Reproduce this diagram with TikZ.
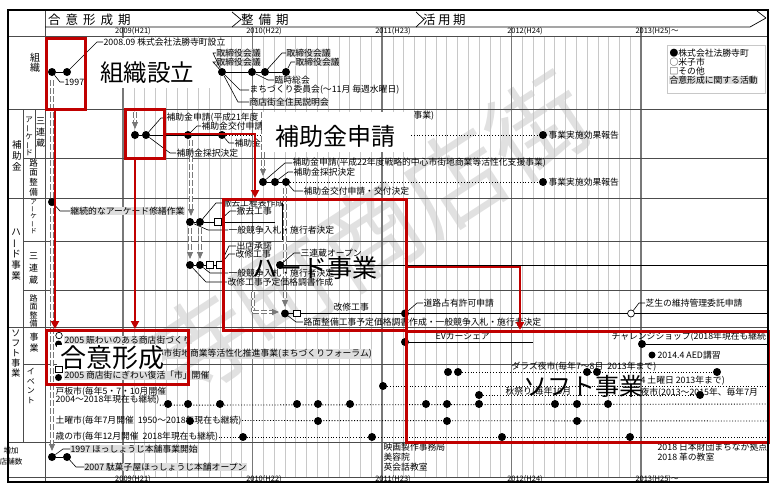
\documentclass[tikz,border=0pt]{standalone}
\usepackage{fontspec}
\setmainfont{Noto Sans CJK JP}
\usetikzlibrary{arrows.meta}
\definecolor{rboxc}{RGB}{192,0,0}
\definecolor{hlc}{RGB}{222,222,222}
\definecolor{gridc}{RGB}{200,200,200}
\definecolor{yearc}{RGB}{120,120,120}
\definecolor{wmc}{RGB}{225,225,225}
\definecolor{flowc}{RGB}{120,120,120}
\newcommand{\vbar}{\rotatebox[origin=c]{90}{ー}}
\tikzset{
  lbl/.style={font=\fontsize{8.8}{9}\selectfont, inner sep=0.4pt, anchor=west},
  hlbl/.style={lbl, fill=hlc},
  big/.style={font=\fontsize{24}{26}\selectfont, inner sep=0pt},
  yr/.style={font=\fontsize{7.5}{8}\selectfont, inner sep=0pt},
  phase/.style={font=\fontsize{12.5}{13}\selectfont, inner sep=0pt, anchor=west},
  vlab/.style={align=center, inner sep=0pt},
  bdot/.style={circle, fill=black, inner sep=0pt, minimum size=8pt},
  wdot/.style={circle, draw=black, line width=0.7pt, fill=white, inner sep=0pt, minimum size=7pt},
  sqn/.style={rectangle, draw=black, line width=0.7pt, fill=white, inner sep=0pt, minimum size=6.5pt},
  lead/.style={draw=black, line width=0.6pt},
  tline/.style={draw=black, line width=0.8pt},
  dline/.style={draw=black, line width=0.9pt, dash pattern=on 1pt off 1.8pt},
  flow/.style={draw=flowc, line width=0.8pt, double=white, double distance=1.6pt, dash pattern=on 6pt off 2pt},
  flowarr/.style={flow, -{Triangle[length=7pt,width=6pt,fill=flowc]}},
  redbox/.style={draw=rboxc, line width=3.2pt, rectangle, inner sep=0pt, anchor=north west},
  redarr/.style={draw=rboxc, line width=2.6pt, -{Triangle[length=8pt,width=8pt]}},
  rowl/.style={draw=black!70, line width=0.7pt},
}
\begin{document}
\begin{tikzpicture}[x=1pt,y=-1pt]
\useasboundingbox (0,0) rectangle (773,487);
% watermark
\node[text=wmc, font=\fontsize{100}{100}\selectfont, rotate=33, inner sep=0pt] (wm) at (370,235) {寺町商店街};
% grid
\foreach \k in {1,...,47}{\draw[gridc, line width=0.5pt] ({123+\k*10.79},36) -- ({123+\k*10.79},477);}
\foreach \xx in {123,252.5,382,511.5,641}{\draw[yearc, line width=1.2pt] (\xx,27) -- (\xx,482);}
\foreach \yy in {36,109,198,327,442,477}{\draw[rowl] (8,\yy) -- (768,\yy);}
\foreach \yy in {158,241,290,364}{\draw[rowl] (23,\yy) -- (768,\yy);}
\draw[rowl] (23,109) -- (23,442);
\draw[rowl] (45,10) -- (45,482);
\draw[rowl] (35,109) -- (35,158);
% header
\draw[line width=0.7pt] (45,27) -- (750,27) -- (766,18);
\draw[line width=0.7pt] (757,11) -- (766,18);
\draw[line width=0.7pt] (232,12) -- (241,19.5) -- (232,27);
\draw[line width=0.7pt] (416,12) -- (424,19.5) -- (416,27);
\node[phase] (ph1) at (48,19.5) {合\hspace{5pt}意\hspace{5pt}形\hspace{5pt}成\hspace{5pt}期};
\node[phase] (ph2) at (241,19.5) {整\hspace{5pt}備\hspace{5pt}期};
\node[phase] (ph3) at (423,19.5) {活\hspace{2.5pt}用\hspace{2.5pt}期};
\foreach \xx/\t [count=\i] in {133/2009(H21),264/2010(H22),393/2011(H23),525/2012(H24),657/2013(H25)～}{
  \node[yr] (yt\i) at (\xx,31.5) {\t};
  \node[yr] (yb\i) at (\xx,479.5) {\t};}
% side labels
\node[vlab, font=\fontsize{10}{10.5}\selectfont] (sl1) at (35,62.5) {組\\織};
\node[vlab, font=\fontsize{9.5}{11}\selectfont] (sl2) at (17,156) {補\\助\\金};
\node[vlab, font=\fontsize{9.5}{11.2}\selectfont] (sl3) at (16,254.5) {ハ\\\vbar\\ド\\事\\業};
\node[vlab, font=\fontsize{9}{10}\selectfont] (sl4) at (16,354) {ソ\\フ\\ト\\事\\業};
\node[vlab, font=\fontsize{7.5}{8.3}\selectfont] (sl5) at (29,136.5) {ア\\\vbar\\ケ\\\vbar\\ド};
\node[vlab, font=\fontsize{9}{11}\selectfont] (sl6) at (40.5,133) {三\\連\\蔵};
\node[vlab, font=\fontsize{8.5}{9.7}\selectfont] (sl7) at (33.5,177.5) {路\\面\\整\\備};
\node[vlab, font=\fontsize{6.5}{6.7}\selectfont] (sl8) at (33.5,216.5) {ア\\\vbar\\ケ\\\vbar\\ド};
\node[vlab, font=\fontsize{9}{12}\selectfont] (sl9) at (33.5,269) {三\\連\\蔵};
\node[vlab, font=\fontsize{8}{8.4}\selectfont] (sl10) at (33.5,311) {路\\面\\整\\備};
\node[vlab, font=\fontsize{9}{11}\selectfont] (sl11) at (34,342.5) {事\\業};
\node[vlab, font=\fontsize{8}{9.5}\selectfont] (sl12) at (31,386) {イ\\ベ\\ン\\ト};
\node[vlab, font=\fontsize{7.5}{11}\selectfont] (sl13) at (11,456) {増加\\店舗数};
% legend
\node[draw=gridc, line width=0.8pt, minimum width=98pt, minimum height=48pt, anchor=north west, inner sep=0pt] (lg) at (667,45) {};
\node[lbl] (lg1) at (669,53) {●株式会社法勝寺町};
\node[lbl] (lg2) at (669,62) {○米子市};
\node[lbl] (lg3) at (669,71) {□その他};
\node[hlbl] (lg4) at (669,80) {合意形成に関する活動};
% flows
\node[bdot] (z1) at (52,457) {};
\node[bdot] (o1) at (52,72) {};
\draw[flowarr] (52,80) -- (52,451);
\draw[flowarr] (135,112) -- (135,129);
\draw[flowarr] (191,140) -- (191,216);
\draw[flowarr] (190,228) -- (190,259);
\draw[flowarr] (200,228) -- (200,259);
\draw[flowarr] (263,112) -- (263,176);
\draw[flowarr] (285,188) -- (285,307);
\draw[flow] (253,292) -- (253,312);
\draw[flowarr] (253,312) -- (279,312);
% --- 組織 row
\node[bdot] (o2) at (67,72) {};
\draw[tline] (o1) -- (o2);
\node[lbl] (t1997) at (64,82) {1997};
\draw[lead] (o1) -- (60,82) -- (t1997.west);
\fill[white] (88,46) rectangle (213,88);
\node[big, font=\fontsize{23.5}{25}\selectfont] (bg1) at (147,73) {組織設立};
\node[lbl, fill=white] (t2008) at (103,42) {2008.09 株式会社法勝寺町設立};
\draw[lead] (o2) -- (97,42) -- (t2008.west);
\node[bdot] (o3) at (222,72) {};
\node[bdot] (o4) at (252,72) {};
\node[bdot] (o5) at (265,72) {};
\node[bdot] (o6) at (286,72) {};
\draw[tline] (o3) -- (o4) -- (o5) -- (o6);
\node[hlbl] (tk1) at (216,53) {取締役会議};
\node[hlbl] (tk2) at (216,62) {取締役会議};
\node[hlbl] (tk3) at (286,53) {取締役会議};
\node[hlbl] (tk4) at (295,62) {取締役会議};
\node[lbl] (tk5) at (274,80) {臨時総会};
\node[lbl] (tk6) at (249,90) {まちづくり委員会(～11月\ 毎週水曜日)};
\node[hlbl] (tk7) at (249,102) {商店街全住民説明会};
\draw[lead] (o3) -- (213,53) -- (tk1.west);
\draw[lead] (o3) -- (213,62) -- (tk2.west);
\draw[lead] (o5) -- (282,53) -- (tk3.west);
\draw[lead] (o6) -- (291,62) -- (tk4.west);
\draw[lead] (o4) -- (268,80) -- (tk5.west);
\draw[lead] (o3) -- (240,90) -- (tk6.west);
\draw[lead] (o3) -- (238,102) -- (tk7.west);
% --- 補助金 row 1
\node[bdot] (h1) at (135,135) {};
\node[bdot] (h2) at (146,135) {};
\node[bdot] (h3) at (188,135) {};
\node[bdot] (h4) at (222,135) {};
\draw[tline] (h1) -- (h2) -- (h3) -- (h4);
\node[bdot] (h5) at (543,135) {};
\draw[dline] (h4) -- (h5);
\node[lbl] (th5) at (548,135) {事業実施効果報告};
\node[lbl] (th1) at (166,118) {補助金申請(平成21年度};
\draw[lead] (h2) -- (161,118) -- (th1.west);
\node[lbl] (th2) at (176,153) {補助金採択決定};
\draw[lead] (h2) -- (170,153) -- (th2.west);
\node[lbl] (th3) at (201,126) {補助金交付申請};
\draw[lead] (h3) -- (197,126) -- (th3.west);
\node[lbl] (th4) at (234,143) {補助金};
\draw[lead] (h4) -- (229,143) -- (th4.west);
\fill[white] (262,112) rectangle (410,152);
\node[big] (bg2) at (335,136) {補助金申請};
\node[lbl] (th6) at (413,116) {事業)};
% --- 補助金 row 2
\node[bdot] (r1) at (263,182) {};
\node[bdot] (r2) at (275,182) {};
\node[bdot] (r3) at (286,182) {};
\draw[tline] (r1) -- (r2) -- (r3);
\node[bdot] (r4) at (543,182) {};
\draw[dline] (r3) -- (r4);
\node[lbl] (tr4) at (548,182) {事業実施効果報告};
\node[lbl] (tr1) at (292,163) {補助金申請(平成22年度戦略的中心市街地商業等活性化支援事業)};
\draw[lead] (r1) -- (285,163) -- (tr1.west);
\node[lbl] (tr2) at (293,172) {補助金採択決定};
\draw[lead] (r2) -- (288,172) -- (tr2.west);
\node[lbl] (tr3) at (303,191) {補助金交付申請・交付決定};
\draw[lead] (r3) -- (294,191) -- (tr3.west);
% --- ハード アーケード
\node[bdot] (a0) at (52,202) {};
\node[hlbl] (ta0) at (70,211) {継続的なアーケード修繕作業};
\draw[lead] (a0) -- (60,211) -- (ta0.west);
\node[bdot] (a1) at (190,222) {};
\node[bdot] (a2) at (200,222) {};
\node[sqn] (a3) at (218,222) {};
\coordinate (a4) at (275,222);
\draw[tline] (a1) -- (a2) -- (a3) -- (a4);
\node[lbl] (ta1) at (222,203) {撤去工程表作成};
\node[lbl] (ta2) at (236,211) {撤去工事};
\node[lbl] (ta3) at (228,230) {一般競争入札・施行者決定};
\draw[lead] (a2) -- (216,203) -- (ta1.west);
\draw[lead] (a3) -- (230,211) -- (ta2.west);
\draw[lead] (a1) -- (208,230) -- (ta3.west);
\draw[line width=0.7pt] (282,203) -- (282,240);
% --- ハード 三連蔵
\node[bdot] (b1) at (190,265) {};
\node[bdot] (b2) at (200,265) {};
\node[sqn] (b3) at (210,265) {};
\node[sqn] (b4) at (220,265) {};
\draw[tline] (b1) -- (b2) -- (b3) -- (b4);
\node[lbl] (tb1) at (236,246) {出店承諾};
\node[lbl] (tb2) at (235,254) {改修工事};
\node[lbl] (tb3) at (228,273) {一般競争入札・施行者決定};
\node[lbl] (tb4) at (227,282) {改修工事予定価格調書作成};
\draw[lead] (b4) -- (229,246) -- (tb1.west);
\draw[lead] (b4) -- (229,254) -- (tb2.west);
\draw[lead] (b2) -- (210,273) -- (tb3.west);
\draw[lead] (b1) -- (206,282) -- (tb4.west);
\node[bdot] (b5) at (280,265) {};
\node[lbl] (tb5) at (300,253) {三連蔵オープン};
\draw[lead] (b5) -- (294,253) -- (tb5.west);
\coordinate (b6) at (768,265);
\draw[tline] (b5) -- (b6);
% --- ハード 路面整備
\node[bdot] (c1) at (285,313.5) {};
\node[sqn] (c2) at (297,313.5) {};
\node[bdot] (c3) at (405,313.5) {};
\node[wdot] (c4) at (631,313.5) {};
\coordinate (c5) at (768,313.5);
\draw[tline] (c1) -- (c2) -- (c3) -- (c4) -- (c5);
\node[lbl] (tc0) at (333,307.5) {改修工事};
\node[lbl] (tc3) at (423,303) {道路占有許可申請};
\draw[lead] (c3) -- (417,303) -- (tc3.west);
\node[lbl] (tc4) at (645,303) {芝生の維持管理委託申請};
\draw[lead] (c4) -- (639,303) -- (tc4.west);
\node[lbl] (tc1) at (303,322) {路面整備工事予定価格調書作成・一般競争入札・施行者決定};
\draw[lead] (c1) -- (296,322) -- (tc1.west);
% --- ソフト 事業
\node[wdot, minimum size=6.5pt] (s1) at (59,335.5) {};
\node[bdot, minimum size=7pt] (s2) at (58.5,344) {};
\node[hlbl] (ts1) at (64,340) {2005 賑わいのある商店街づくり};
\node[hlbl] (ts3) at (124,354) {2005 中心市街地商業等活性化推進事業(まちづくりフォーラム)};
\fill[white] (57,345) rectangle (162,371);
\node[big, font=\fontsize{26}{28}\selectfont] (bg3) at (112,358) {合意形成};
\node[bdot] (s4) at (405,342) {};
\coordinate (s5) at (533,342);
\draw[tline] (s4) -- (s5);
\node[lbl] (ts4) at (435,336.5) {EVカーシェア};
\node[bdot] (s6) at (642,344) {};
\coordinate (s7) at (767,344);
\draw[tline] (s6) -- (s7);
\node[lbl] (ts6) at (611,337) {チャレンジショップ(2018年現在も継続};
\node[bdot, minimum size=7pt] (s8) at (652,355) {};
\node[lbl] (ts8) at (657,355) {2014.4 AED講習};
% --- ソフト イベント
\node[sqn] (e1) at (59,369.5) {};
\node[bdot, minimum size=7pt] (e2) at (58.5,377.5) {};
\node[hlbl] (te1) at (64,375) {2005 商店街にぎわい復活「市」開催};
\node[lbl] (te2a) at (55,392) {戸板市(毎年5・7・10月開催};
\node[lbl] (te2b) at (55,400) {2004～2018年現在も継続)};
\coordinate (te2e) at (768,404);
\draw[dline] (te2b.south east) -- (te2e);
\foreach \xx [count=\i] in {168,188,220,297,318,350,426,447,479,555,577,608} \node[bdot] (tp\i) at (\xx,404) {};
\node[lbl] (te3) at (55,420.5) {土曜市(毎年7月開催\ \ 1950～2018年現在も継続)};
\coordinate (te3e) at (768,421);
\draw[dline] (te3.east) -- (te3e);
\foreach \xx [count=\i] in {190,318,447,577} \node[bdot] (ts\i) at (\xx,421) {};
\node[lbl] (te4) at (55,437) {歳の市(毎年12月開催\ \ 2018年現在も継続)};
\coordinate (te4e) at (768,437);
\draw[dline] (te4.east) -- (te4e);
\foreach \xx [count=\i] in {243,372,502,630} \node[bdot] (tt\i) at (\xx,437) {};
\node[bdot] (ev1) at (383,386) {};
\coordinate (ev1e) at (768,386);
\draw[dline] (ev1) -- (ev1e);
\node[lbl] (tev2) at (511,367) {ダラズ夜市(毎年7～8月\ \ 2013年まで)};
\node[bdot] (ev2) at (448,372) {};
\node[bdot] (ev3) at (458,372) {};
\node[bdot] (ev4) at (587,372) {};
\node[bdot] (ev5) at (597,372) {};
\node[bdot] (ev6) at (717,372) {};
\draw[dline] (ev3) -- (ev6);
\node[lbl] (tev3) at (640,381) {4 土曜日 2013年まで)};
\node[bdot] (ev7) at (479,395) {};
\node[bdot] (ev8) at (700,395) {};
\draw[dline] (ev7) -- (ev8);
\node[lbl] (tev4) at (505,392) {秋祭り(毎年10月};
\node[lbl] (tev5) at (640,393) {夜市(2013～2015年、毎年7月};
\node[big, font=\fontsize{24}{26}\selectfont] (bg5) at (583.5,386.5) {ソフト事業};
% --- 増加店舗数
\node[bdot] (z2) at (67,457) {};
\draw[tline] (z1) -- (z2);
\node[hlbl] (tz1) at (70,449) {1997 ほっしょうじ本舗事業開始};
\draw[lead] (z1) -- (63,449) -- (tz1.west);
\node[hlbl] (tz2) at (84,467) {2007 駄菓子屋ほっしょうじ本舗オープン};
\draw[lead] (z2) -- (76,467) -- (tz2.west);
\node[lbl] (tz3) at (383,447) {映画製作事務局};
\node[lbl] (tz4) at (383,457) {美容院};
\node[lbl] (tz5) at (383,467) {英会話教室};
\node[lbl] (tz6) at (657,447) {2018 日本財団まちなか拠点};
\node[lbl] (tz7) at (657,457) {2018 革の教室};
% big label hard
\node[big, font=\fontsize{25}{27}\selectfont] (bg4) at (314.5,268.5) {ハード事業};
% red boxes
\node[redbox, minimum width=39pt, minimum height=71pt] (rb1) at (45,37) {};
\node[redbox, minimum width=39pt, minimum height=49pt] (rb2) at (124,108) {};
\node[redbox, minimum width=183pt, minimum height=131pt] (rb3) at (222,198) {};
\node[redbox, minimum width=142pt, minimum height=54pt] (rb4) at (45,329) {};
\node[redbox, minimum width=362pt, minimum height=111pt] (rb5) at (405,330) {};
\draw[redarr] ([xshift=10pt]rb1.south west) -- ([xshift=10pt]rb4.north west);
\draw[redarr] ([xshift=11pt]rb2.south west) -- ([xshift=90pt]rb4.north west);
\draw[redarr] (rb2.east) -| ([xshift=33pt]rb3.north west);
\draw[redarr] ([yshift=-2pt]rb3.east) -| ([xshift=115pt]rb5.north west);
% frame
\draw[line width=2.6pt] (8,10) rectangle (768,482);
\end{tikzpicture}
\end{document}
